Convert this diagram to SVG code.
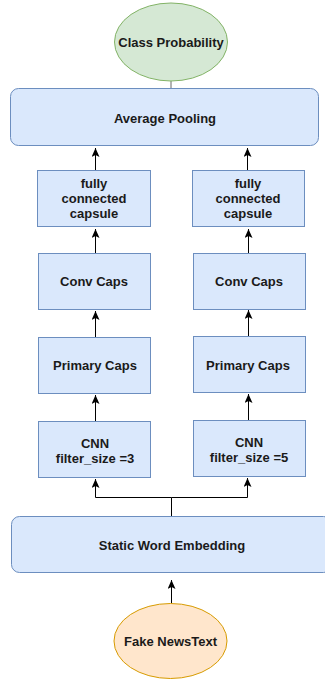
<svg xmlns="http://www.w3.org/2000/svg" width="325" height="681" viewBox="0 0 325 681">
<style>
.b{fill:#dae8fc;stroke:#6c8ebf;stroke-width:1}
.t{font-family:"Liberation Sans",Arial,sans-serif;font-size:13px;font-weight:bold;fill:#1a1a1a;text-anchor:middle}
.c{fill:none;stroke:#000;stroke-width:1}
</style>
<defs>
<marker id="a" viewBox="0 0 8 9" refX="4" refY="0" markerWidth="8" markerHeight="9" markerUnits="userSpaceOnUse" orient="0">
<path d="M0,9 L4,0 L8,9 L4,7 Z" fill="#000"/>
</marker>
</defs>
<g id="connectors">
<line x1="171" y1="80" x2="171" y2="88" stroke="#666" stroke-width="1"/>
<path class="c" d="M95.5,170 V148" marker-end="url(#a)"/>
<path class="c" d="M247.5,170 V148" marker-end="url(#a)"/>
<path class="c" d="M95.5,253 V229" marker-end="url(#a)"/>
<path class="c" d="M248.5,253 V229" marker-end="url(#a)"/>
<path class="c" d="M95.5,337 V311" marker-end="url(#a)"/>
<path class="c" d="M248.5,336 V310" marker-end="url(#a)"/>
<path class="c" d="M95.5,421 V395" marker-end="url(#a)"/>
<path class="c" d="M248.5,420 V394" marker-end="url(#a)"/>
<path class="c" d="M171.5,516 V497.5 H95.5 V479" marker-end="url(#a)"/>
<path class="c" d="M171.5,497.5 H247.5 V478" marker-end="url(#a)"/>
<path class="c" d="M171.5,603 V580" marker-end="url(#a)"/>
</g>
<g id="class-probability">
<ellipse cx="171" cy="42" rx="56.5" ry="39" fill="#d5e8d4" stroke="#82b366"/>
<text class="t" x="171" y="47">Class Probability</text>
</g>
<g id="average-pooling">
<rect class="b" x="10.5" y="88.5" width="308" height="57" rx="8"/>
<text class="t" x="165" y="123">Average Pooling</text>
</g>
<g id="fc-left">
<rect class="b" x="37.5" y="170.5" width="113" height="56"/>
<text class="t" x="94" y="188">fully</text>
<text class="t" x="94" y="203">connected</text>
<text class="t" x="94" y="218">capsule</text>
</g>
<g id="fc-right">
<rect class="b" x="192.5" y="170.5" width="112" height="56"/>
<text class="t" x="248" y="188">fully</text>
<text class="t" x="248" y="203">connected</text>
<text class="t" x="248" y="218">capsule</text>
</g>
<g id="conv-left">
<rect class="b" x="38.5" y="253.5" width="112" height="56"/>
<text class="t" x="94" y="286">Conv Caps</text>
</g>
<g id="conv-right">
<rect class="b" x="193.5" y="253.5" width="112" height="56"/>
<text class="t" x="249" y="286">Conv Caps</text>
</g>
<g id="primary-left">
<rect class="b" x="38.5" y="337.5" width="112" height="56"/>
<text class="t" x="95" y="370">Primary Caps</text>
</g>
<g id="primary-right">
<rect class="b" x="193.5" y="336.5" width="112" height="56"/>
<text class="t" x="248" y="370">Primary Caps</text>
</g>
<g id="cnn-left">
<rect class="b" x="38.5" y="421.5" width="112" height="56"/>
<text class="t" x="95" y="448">CNN</text>
<text class="t" x="95" y="463">filter_size =3</text>
</g>
<g id="cnn-right">
<rect class="b" x="193.5" y="420.5" width="112" height="56"/>
<text class="t" x="249" y="447">CNN</text>
<text class="t" x="249" y="462">filter_size =5</text>
</g>
<g id="static-word-embedding">
<rect class="b" x="11.5" y="516.5" width="320" height="56" rx="8"/>
<text class="t" x="172" y="550">Static Word Embedding</text>
</g>
<g id="fake-news-text">
<ellipse cx="170.5" cy="641" rx="56.5" ry="37.5" fill="#ffe6cc" stroke="#d79b00"/>
<text class="t" x="170.5" y="646">Fake NewsText</text>
</g>
</svg>
